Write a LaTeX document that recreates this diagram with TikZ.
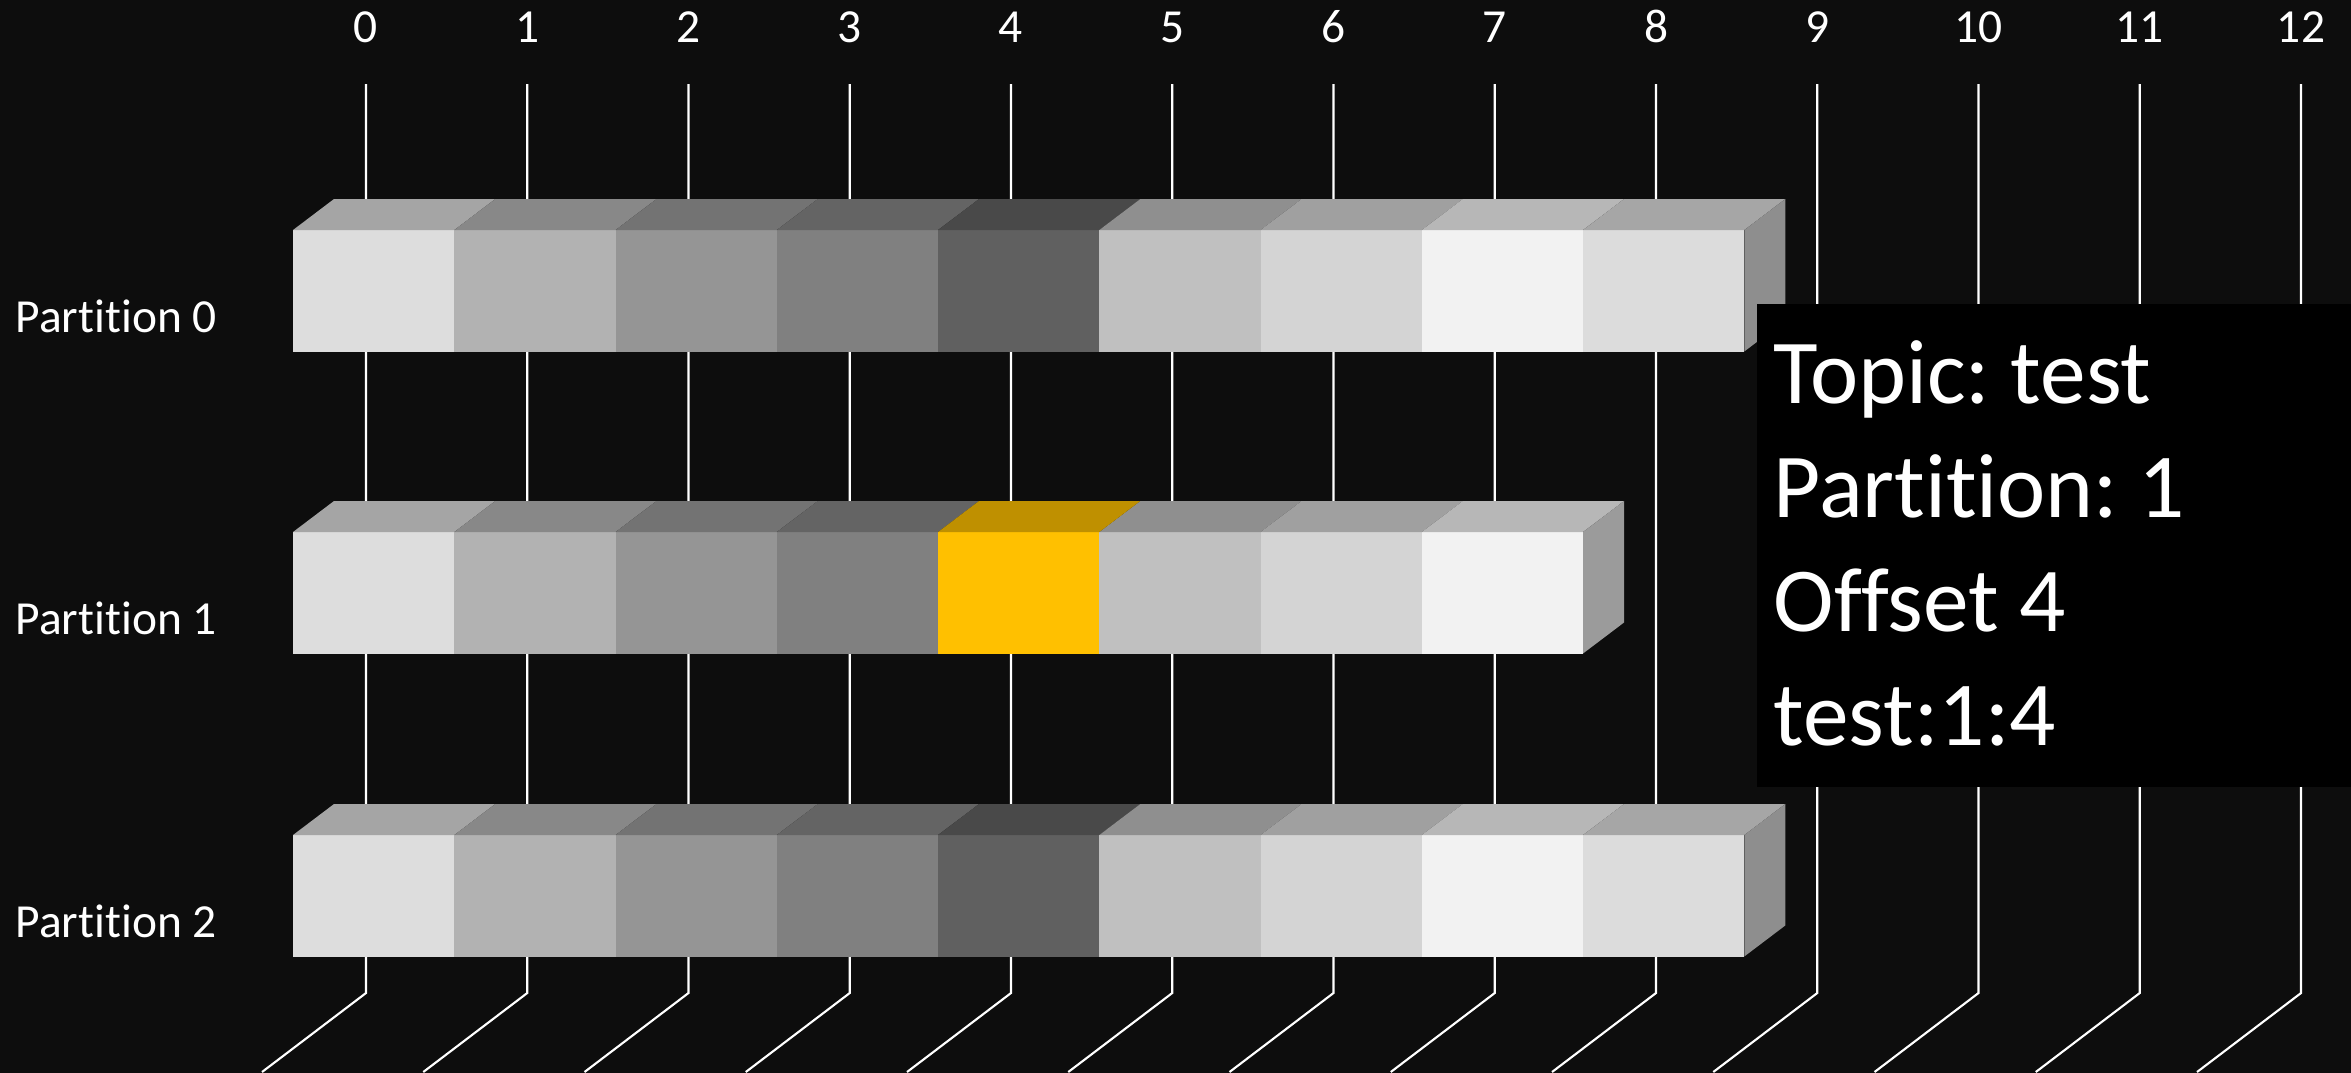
\documentclass[tikz,border=0pt]{standalone}
\usepackage{fontspec}
\setmainfont{Carlito}[Ligatures=NoCommon]
\frenchspacing
\definecolor{bgdark}{HTML}{0D0D0D}
\definecolor{hilite}{HTML}{FFC000}
\definecolor{hilitetop}{HTML}{BF9000}
\begin{document}
\begin{tikzpicture}[x=0.1mm,y=-0.1mm,
    gridline/.style={white,line width=0.6pt},
    numlabel/.style={text=white,anchor=base,inner sep=0pt,font=\fontsize{13.5}{16}\selectfont},
    partlabel/.style={text=white,anchor=base west,inner sep=0pt,font=\fontsize{13.5}{16}\selectfont},
    infotext/.style={text=white,anchor=base west,inner sep=0pt,font=\fontsize{26}{32}\selectfont}]
    \useasboundingbox (0,0) rectangle (2351,1072);
    \fill[bgdark] (-20,-20) rectangle (2371,1092);
    \foreach \i in {0,...,12} {
        \node[numlabel] (num\i) at (366+161.25*\i,42) {\i};
        \coordinate (gtop\i) at (366+161.25*\i,84);
        \coordinate (gkink\i) at (366+161.25*\i,993);
        \coordinate (gend\i) at (262+161.25*\i,1072);
        \draw[gridline] (gtop\i) -- (gkink\i) -- (gend\i);
    }
    \foreach \y in {230,835} {
        \foreach \c/\fr/\tp in {0/86.7/64.7,1/69.8/53.3,2/58.4/45.1,3/50.2/39.2,4/37.6/28.6,5/75.3/56.1,6/83.1/62.7,7/94.9/71.8,8/86.3/65.1} {
            \fill[white!\fr!black] (293+161.25*\c,\y) rectangle ++(161.25,121.5);
            \fill[white!\tp!black] (293+161.25*\c,\y) -- ++(41,-31) -- ++(161.25,0) -- ++(-41,31) -- cycle;
        }
        \fill[white!55.7!black] (1744.25,\y) -- ++(41,-31) -- ++(0,121.5) -- ++(-41,31) -- cycle;
    }
    \foreach \c/\fr/\tp in {0/86.7/64.7,1/69.8/53.3,2/58.4/45.1,3/50.2/39.2,5/75.3/56.1,6/83.1/62.7,7/94.9/71.8} {
        \fill[white!\fr!black] (293+161.25*\c,532) rectangle ++(161.25,121.5);
        \fill[white!\tp!black] (293+161.25*\c,532) -- ++(41,-31) -- ++(161.25,0) -- ++(-41,31) -- cycle;
    }
    \fill[hilite] (938,532) rectangle ++(161.25,121.5);
    \fill[hilitetop] (938,532) -- ++(41,-31) -- ++(161.25,0) -- ++(-41,31) -- cycle;
    \fill[white!60.8!black] (1583,532) -- ++(41,-31) -- ++(0,121.5) -- ++(-41,31) -- cycle;
    \foreach \p/\y in {0/332,1/634,2/937}
        \node[partlabel] (part\p) at (15,\y) {Partition \p};
    \node[fill=black,inner sep=0pt,minimum width=59.5mm,minimum height=48.3mm,anchor=north west] (info) at (1756,303) {};
    \node[infotext] (topic) at (1773,403) {Topic: test};
    \node[infotext] (partition) at (1773,517) {Partition: 1};
    \node[infotext] (offset) at (1773,631) {Offset 4};
    \node[infotext] (key) at (1773,745) {test:1:4};
\end{tikzpicture}
\end{document}
